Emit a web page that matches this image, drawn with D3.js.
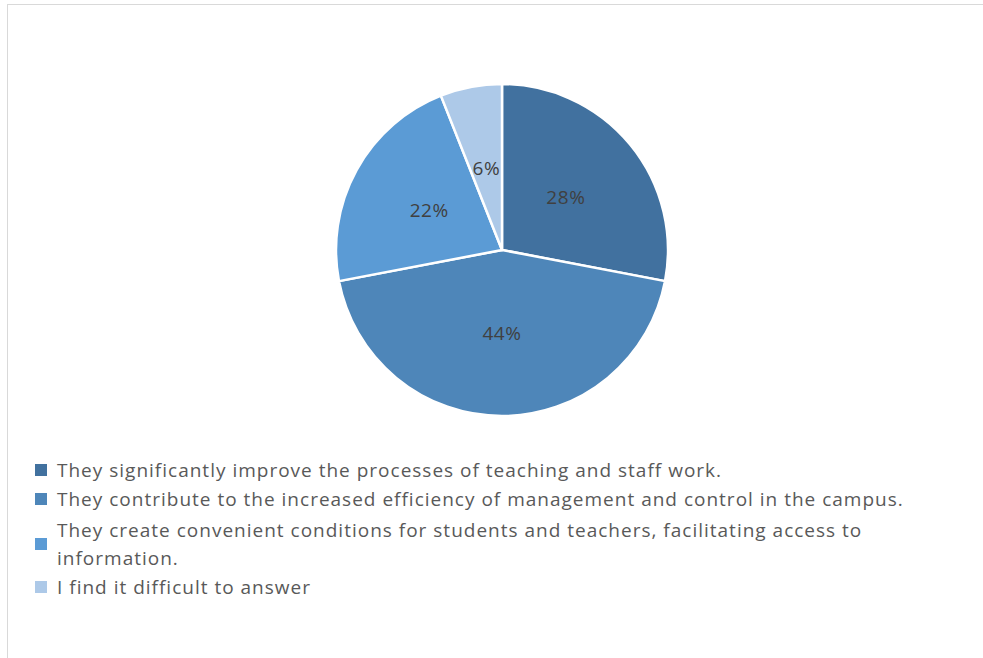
<!DOCTYPE html>
<html>
<head>
<meta charset="utf-8">
<script src="https://cdn.jsdelivr.net/npm/d3@7"></script>
<style>
  html, body { margin: 0; padding: 0; background: #ffffff; }
  svg { display: block; }
</style>
</head>
<body>
<svg id="chart" width="983" height="658"></svg>
<script>
// Survey answers and their shares (percent)
const categories = [
  "They significantly improve the processes of teaching and staff work.",
  "They contribute to the increased efficiency of management and control in the campus.",
  "They create convenient conditions for students and teachers, facilitating access to information.",
  "I find it difficult to answer"
];
const values = [28, 44, 22, 6];
const sliceColors = ["#41719f", "#4e86b9", "#5b9bd5", "#adc9e8"];
// Legend lines, with the long third answer wrapped onto two lines
const legendLines = [
  ["They significantly improve the processes of teaching and staff work."],
  ["They contribute to the increased efficiency of management and control in the campus."],
  ["They create convenient conditions for students and teachers, facilitating access to", "information."],
  ["I find it difficult to answer"]
];

const svg = d3.select("#chart");
const fontFamily = "'Open Sans', 'Noto Sans', sans-serif";

// Chart area frame
svg.append("rect")
  .attr("x", 7.5).attr("y", 4.5)
  .attr("width", 990).attr("height", 670)
  .attr("fill", "#ffffff")
  .attr("stroke", "#d9d9d9")
  .attr("stroke-width", 1);

const cx = 502, cy = 250, radius = 166;

const pie = d3.pie().sort(null).value(d => d)
  .startAngle(0).endAngle(2 * Math.PI);
const arc = d3.arc().innerRadius(0).outerRadius(radius);
const labelArc = d3.arc().innerRadius(83).outerRadius(83);
const color = d3.scaleOrdinal().domain(d3.range(values.length)).range(sliceColors);

const g = svg.append("g").attr("transform", `translate(${cx},${cy})`);
const arcs = pie(values);

g.selectAll("path.slice")
  .data(arcs)
  .join("path")
  .attr("class", "slice")
  .attr("d", arc)
  .attr("fill", (d, i) => color(i))
  .attr("stroke", "#ffffff")
  .attr("stroke-width", 2.5)
  .attr("stroke-linejoin", "round");

g.selectAll("text.pct")
  .data(arcs)
  .join("text")
  .attr("class", "pct")
  .attr("transform", d => `translate(${labelArc.centroid(d)})`)
  .attr("text-anchor", "middle")
  .attr("dy", "0.35em")
  .attr("font-family", fontFamily)
  .attr("font-size", 19)
  .attr("letter-spacing", 0.6)
  .attr("fill", "#404040")
  .text(d => d.data + "%");

// Legend
const legend = svg.append("g");
const legendX = 35, textX = 57;
const lineGap = 29;
let y = 470;
legendLines.forEach((lines, i) => {
  const top = y;
  lines.forEach((ln, j) => {
    legend.append("text")
      .attr("x", textX)
      .attr("y", y)
      .attr("dy", "0.35em")
      .attr("font-family", fontFamily)
      .attr("font-size", 19)
      .attr("letter-spacing", 1.0)
      .attr("fill", "#595959")
      .text(ln);
    if (j < lines.length - 1) y += 28;
  });
  const mid = (top + y) / 2;
  legend.append("rect")
    .attr("x", legendX)
    .attr("y", mid - 6)
    .attr("width", 12).attr("height", 12)
    .attr("fill", color(i));
  y += (i === 1 ? 31 : lineGap);
});
</script>
</body>
</html>
